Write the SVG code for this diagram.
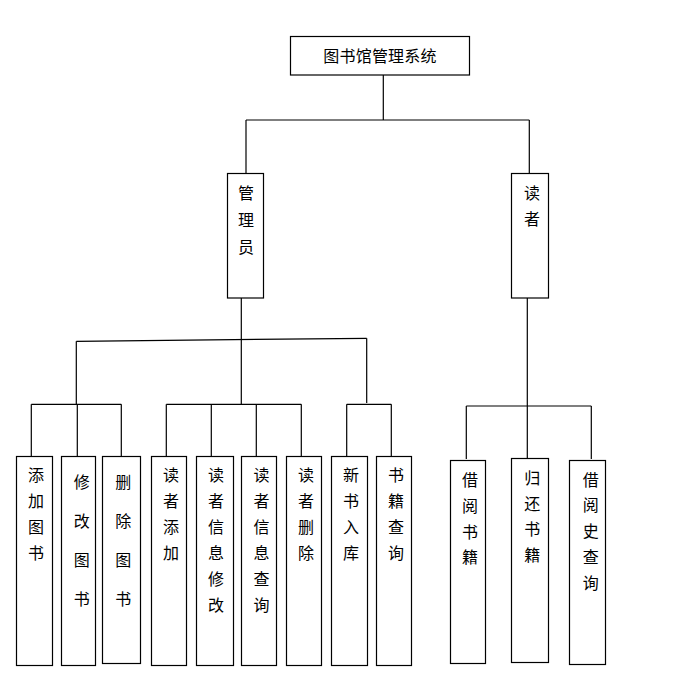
<svg xmlns="http://www.w3.org/2000/svg" width="692" height="678" viewBox="0 0 692 678">
<style>
.box{fill:#fff;stroke:#000;stroke-width:1.2}
.t{font-family:"Noto Sans CJK SC","Liberation Sans",sans-serif;font-size:16px;fill:#000;text-anchor:middle}
.c line{stroke:#000;stroke-width:1.2;fill:none}
</style>
<rect width="692" height="678" fill="#fff"/>
<g id="connectors" class="c">
<line x1="383.3" y1="75" x2="383.3" y2="120"/>
<line x1="246" y1="120" x2="529.3" y2="120"/>
<line x1="246" y1="120" x2="246" y2="173.5"/>
<line x1="529.3" y1="120" x2="529.3" y2="173.5"/>
<line x1="241.3" y1="298" x2="241.3" y2="404.3"/>
<line x1="76.3" y1="341.3" x2="366.7" y2="338.3"/>
<line x1="76.3" y1="341.3" x2="76.3" y2="404"/>
<line x1="366.7" y1="338.3" x2="366.7" y2="403"/>
<line x1="31.3" y1="404.3" x2="121.3" y2="404.3"/>
<line x1="31.3" y1="404.3" x2="31.3" y2="456"/>
<line x1="77.3" y1="404.3" x2="77.3" y2="456"/>
<line x1="121.3" y1="404.3" x2="121.3" y2="456"/>
<line x1="166.3" y1="404.3" x2="301.3" y2="404.3"/>
<line x1="166.3" y1="404.3" x2="166.3" y2="456"/>
<line x1="211.3" y1="404.3" x2="211.3" y2="456"/>
<line x1="256.3" y1="404.3" x2="256.3" y2="456"/>
<line x1="301.3" y1="404.3" x2="301.3" y2="456"/>
<line x1="346.7" y1="404.3" x2="391.3" y2="404.3"/>
<line x1="346.7" y1="404.3" x2="346.7" y2="456"/>
<line x1="391.3" y1="404.3" x2="391.3" y2="456"/>
<line x1="527.3" y1="298" x2="527.3" y2="458.3"/>
<line x1="466.3" y1="406" x2="591.3" y2="406"/>
<line x1="466.3" y1="406" x2="466.3" y2="459"/>
<line x1="591.3" y1="406" x2="591.3" y2="459"/>
</g>
<g id="root">
<rect class="box" x="290.5" y="36.5" width="179" height="38.5"/>
<text class="t" x="380" y="62" letter-spacing="0.2">图书馆管理系统</text>
</g>
<g id="admin">
<rect class="box" x="227.5" y="173.5" width="36" height="124.5"/>
<text class="t"><tspan x="246" y="199">管</tspan><tspan x="246" y="226">理</tspan><tspan x="246" y="253">员</tspan></text>
</g>
<g id="reader">
<rect class="box" x="511.5" y="173.5" width="37" height="124.5"/>
<text class="t"><tspan x="532" y="199">读</tspan><tspan x="532" y="225">者</tspan></text>
</g>
<g id="add-book">
<rect class="box" x="16.5" y="456.5" width="36" height="209"/>
<text class="t"><tspan x="36" y="481">添</tspan><tspan x="36" y="507">加</tspan><tspan x="36" y="533">图</tspan><tspan x="36" y="559">书</tspan></text>
</g>
<g id="edit-book">
<rect class="box" x="61.5" y="456.5" width="34" height="209"/>
<text class="t"><tspan x="81.7" y="488">修</tspan><tspan x="81.7" y="527">改</tspan><tspan x="81.7" y="566">图</tspan><tspan x="81.7" y="605">书</tspan></text>
</g>
<g id="delete-book">
<rect class="box" x="102.5" y="456.5" width="38" height="207"/>
<text class="t"><tspan x="123.3" y="488">删</tspan><tspan x="123.3" y="527">除</tspan><tspan x="123.3" y="566">图</tspan><tspan x="123.3" y="605">书</tspan></text>
</g>
<g id="reader-add">
<rect class="box" x="151.5" y="456.5" width="35" height="209"/>
<text class="t"><tspan x="171" y="481">读</tspan><tspan x="171" y="507">者</tspan><tspan x="171" y="533">添</tspan><tspan x="171" y="559">加</tspan></text>
</g>
<g id="reader-edit">
<rect class="box" x="196.5" y="456.5" width="37" height="209"/>
<text class="t"><tspan x="216" y="481">读</tspan><tspan x="216" y="507">者</tspan><tspan x="216" y="533">信</tspan><tspan x="216" y="559">息</tspan><tspan x="216" y="585">修</tspan><tspan x="216" y="611">改</tspan></text>
</g>
<g id="reader-query">
<rect class="box" x="241.5" y="456.5" width="35" height="209"/>
<text class="t"><tspan x="261.5" y="481">读</tspan><tspan x="261.5" y="507">者</tspan><tspan x="261.5" y="533">信</tspan><tspan x="261.5" y="559">息</tspan><tspan x="261.5" y="585">查</tspan><tspan x="261.5" y="611">询</tspan></text>
</g>
<g id="reader-delete">
<rect class="box" x="286.5" y="456.5" width="35" height="209"/>
<text class="t"><tspan x="306" y="481">读</tspan><tspan x="306" y="507">者</tspan><tspan x="306" y="533">删</tspan><tspan x="306" y="559">除</tspan></text>
</g>
<g id="new-book">
<rect class="box" x="331.5" y="456.5" width="36" height="209"/>
<text class="t"><tspan x="351" y="481">新</tspan><tspan x="351" y="507">书</tspan><tspan x="351" y="533">入</tspan><tspan x="351" y="559">库</tspan></text>
</g>
<g id="book-query">
<rect class="box" x="376.5" y="456.5" width="35" height="209"/>
<text class="t"><tspan x="396" y="481">书</tspan><tspan x="396" y="507">籍</tspan><tspan x="396" y="533">查</tspan><tspan x="396" y="559">询</tspan></text>
</g>
<g id="borrow">
<rect class="box" x="450.5" y="460.5" width="35" height="203"/>
<text class="t"><tspan x="470" y="486">借</tspan><tspan x="470" y="512">阅</tspan><tspan x="470" y="538">书</tspan><tspan x="470" y="563">籍</tspan></text>
</g>
<g id="return">
<rect class="box" x="511.5" y="458.5" width="37" height="204"/>
<text class="t"><tspan x="532.3" y="484">归</tspan><tspan x="532.3" y="510">还</tspan><tspan x="532.3" y="535">书</tspan><tspan x="532.3" y="561">籍</tspan></text>
</g>
<g id="history">
<rect class="box" x="569.5" y="460.5" width="36" height="204"/>
<text class="t"><tspan x="590.7" y="486">借</tspan><tspan x="590.7" y="511">阅</tspan><tspan x="590.7" y="537">史</tspan><tspan x="590.7" y="563">查</tspan><tspan x="590.7" y="589">询</tspan></text>
</g>
</svg>
